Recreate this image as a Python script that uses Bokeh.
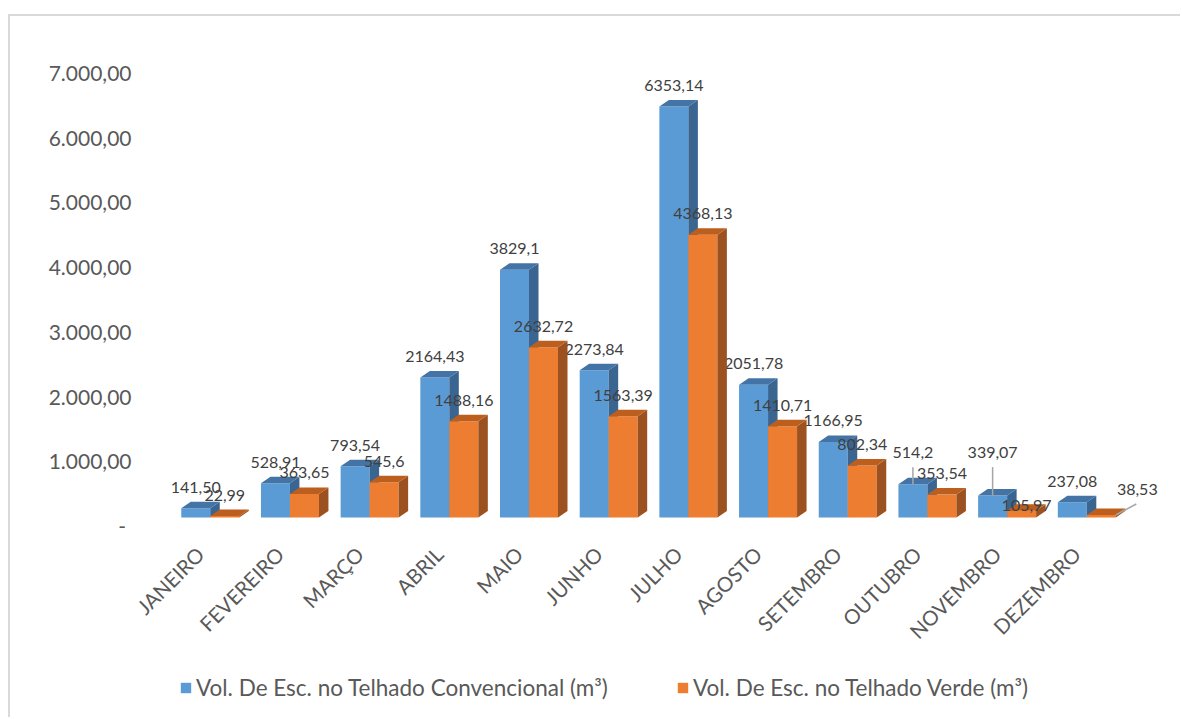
import numpy as np
from bokeh.plotting import figure
from bokeh.models import Range1d, FixedTicker, Legend, LegendItem
from bokeh.core.properties import value
from bokeh.embed import file_html
from bokeh.resources import INLINE

# ---------------- data ----------------
months = ["JANEIRO", "FEVEREIRO", "MARÇO", "ABRIL", "MAIO", "JUNHO",
          "JULHO", "AGOSTO", "SETEMBRO", "OUTUBRO", "NOVEMBRO", "DEZEMBRO"]
convencional = [141.50, 528.91, 793.54, 2164.43, 3829.1, 2273.84,
                6353.14, 2051.78, 1166.95, 514.2, 339.07, 237.08]
verde = [22.99, 363.65, 545.6, 1488.16, 2632.72, 1563.39,
         4368.13, 1410.71, 802.34, 353.54, 105.97, 38.53]
conv_labels = ["141,50", "528,91", "793,54", "2164,43", "3829,1", "2273,84",
               "6353,14", "2051,78", "1166,95", "514,2", "339,07", "237,08"]
verde_labels = ["22,99", "363,65", "545,6", "1488,16", "2632,72", "1563,39",
                "4368,13", "1410,71", "802,34", "353,54", "105,97", "38,53"]
y_ticks = [0, 1000, 2000, 3000, 4000, 5000, 6000, 7000]
y_tick_labels = ["-\u00a0", "1.000,00", "2.000,00", "3.000,00",
                 "4.000,00", "5.000,00", "6.000,00", "7.000,00"]
series_names = ["Vol. De Esc. no Telhado Convencional (m³)",
                "Vol. De Esc. no Telhado Verde (m³)"]

# ---------------- style / geometry ----------------
FONT = "Lato"
PX_X = 79.68                    # pixels per category unit
X0 = -0.75 - 16 / PX_X
X1 = 11.95
FRAME_W = round((X1 - X0) * PX_X)
Y1 = 7495
PX_Y = 485 / Y1                 # pixels per value unit
FRAME_H = 679
Y0 = Y1 - FRAME_H / PX_Y        # frame extends down to hold labels and legend
BAR_W = 29 / PX_X
DX = 9.5 / PX_X
DY = 6.5 / PX_Y
BASE = 8 / PX_Y
LABEL_GAP = 21 / PX_Y

BLUE = ("#5B9BD5", "#4474A5", "#3A6591")     # front, top, side
ORANGE = ("#ED7D31", "#BC5F1E", "#9C5220")
TEXT_DARK = "#404040"
TEXT_GREY = "#595959"

# manual label nudges (px): (series, index) -> (dx, dy up)
NUDGE = {(0, 9): (0, 11), (0, 10): (0, 22.5), (1, 10): (5, -15.5), (1, 11): (36, 5)}
LEADERS = [(0, 9), (0, 10), (1, 11)]

LEFT_BORDER = 124
p = figure(width=1172, height=703, x_range=Range1d(X0, X1), y_range=Range1d(Y0, Y1),
           output_backend="svg", toolbar_location=None,
           min_border_left=LEFT_BORDER, min_border_right=1172 - LEFT_BORDER - FRAME_W,
           min_border_top=24, min_border_bottom=0)
p.margin = (14, 0, 0, 8)
p.styles = {"border-left": "2px solid #D9D9D9", "border-top": "2px solid #D9D9D9"}
p.outline_line_color = None
p.xgrid.grid_line_color = None
p.ygrid.grid_line_color = None
p.background_fill_color = "white"
p.border_fill_color = "white"
p.xaxis.visible = False

xc = np.arange(len(months), dtype=float)
front_renderers = []
for s, (vals, cols, labels) in enumerate([(convencional, BLUE, conv_labels),
                                          (verde, ORANGE, verde_labels)]):
    v = np.array(vals)
    left = xc - BAR_W if s == 0 else xc
    right = left + BAR_W
    top = BASE + v
    bot = np.full_like(v, BASE)
    r = p.quad(left=left, right=right, bottom=bot, top=top,
               fill_color=cols[0], line_color=None)
    front_renderers.append(r)
    side_xs = [[r_, r_ + DX, r_ + DX, r_] for r_ in right]
    side_ys = [[b, b + DY, t + DY, t] for b, t in zip(bot, top)]
    p.patches(side_xs, side_ys, fill_color=cols[2], line_color=None)
    top_xs = [[l, r_, r_ + DX, l + DX] for l, r_ in zip(left, right)]
    top_ys = [[t, t, t + DY, t + DY] for t in top]
    p.patches(top_xs, top_ys, fill_color=cols[1], line_color=None)

    # data labels
    cx = (left + right) / 2
    lx, ly = [], []
    for i in range(len(v)):
        ndx, ndy = NUDGE.get((s, i), (0, 0))
        lx.append(cx[i] + ndx / PX_X)
        ly.append(top[i] + LABEL_GAP + ndy / PX_Y)
    p.text(x=lx, y=ly, text=labels, text_align="center", text_baseline="alphabetic",
           text_font=value(FONT), text_font_size="16px", text_color=TEXT_DARK)

    # leader lines for moved labels
    for (ss, i) in LEADERS:
        if ss != s:
            continue
        ndx, ndy = NUDGE[(ss, i)]
        if ndx == 0:
            x0_ = x1_ = cx[i]
        else:
            x0_ = right[i]
            x1_ = lx[i] - 1 / PX_X
        y0_ = top[i]
        y1_ = ly[i] - 15 / PX_Y
        p.segment(x0=[x0_], y0=[y0_], x1=[x1_], y1=[y1_], line_color="#A6A6A6", line_width=1.5)

# category labels (rotated 45 degrees, ending just left of each category centre)
p.text(x=xc - 10 / PX_X, y=np.full(len(months), -25 / PX_Y), text=months,
       angle=np.pi / 4, text_align="right", text_baseline="middle",
       text_font=value(FONT), text_font_size="20.5px", text_color=TEXT_GREY)

# value axis
p.yaxis.ticker = FixedTicker(ticks=y_ticks)
p.yaxis.major_label_overrides = dict(zip(y_ticks, y_tick_labels))
p.yaxis.axis_line_color = None
p.yaxis.major_tick_line_color = None
p.yaxis.minor_tick_line_color = None
p.yaxis.major_label_standoff = -3
p.yaxis.major_label_text_font = FONT
p.yaxis.major_label_text_font_size = "21px"
p.yaxis.major_label_text_color = TEXT_GREY

# legend: two single-item legends placed below the categories
legend_pos = [(29 + 16, 18), (526 + 16, 18)]
for k in range(2):
    lg = Legend(items=[LegendItem(label=series_names[k], renderers=[front_renderers[k]])],
                location=legend_pos[k], orientation="horizontal",
                glyph_width=13, glyph_height=13, label_height=13, label_standoff=4,
                padding=0, margin=0, border_line_color=None, background_fill_alpha=0,
                label_text_font=FONT, label_text_font_size="22.5px",
                label_text_color=TEXT_GREY, label_text_baseline="middle")
    p.add_layout(lg)

open("out.html", "w").write(file_html(p, INLINE))
